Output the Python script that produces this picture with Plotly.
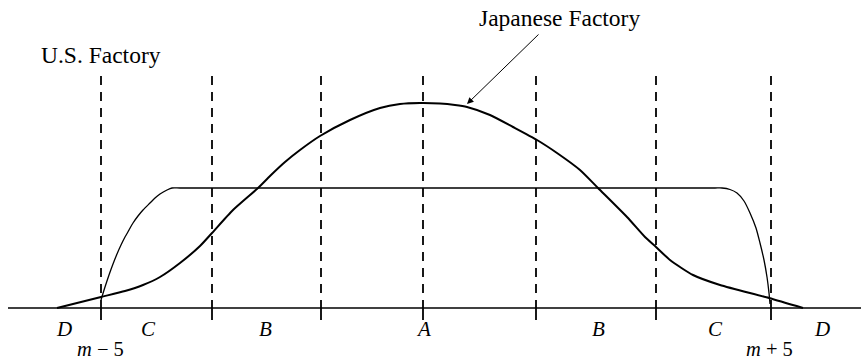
import plotly.graph_objects as go

# Measurement scale (horizontal) and relative frequency (vertical)
boundary_x = [101, 212, 321, 423, 536, 656, 771]
boundary_top = 232
zone_labels = ["D", "C", "B", "A", "B", "C", "D"]
zone_label_x = [64, 148, 265, 423, 598, 715, 822]
limit_labels = ["<i>m</i> − 5", "<i>m</i> + 5"]
limit_label_x = [100, 769]

us_x = [101, 105, 109, 113, 117, 121, 125, 129, 133, 138, 143, 150, 155, 160, 167, 172, 180,
        715, 722, 730, 737, 744, 750, 756, 760, 764, 767, 769, 770]
us_y = [8, 21, 33, 44, 54, 63, 71, 78, 85, 92, 98, 105, 110, 114, 118, 120, 120,
        120, 120, 118.5, 115, 107, 95, 80, 65, 48, 31, 15, 4]

jp_x = [57, 101, 125, 143, 160, 180, 200, 212, 233, 258, 270, 285, 300, 320, 350, 380, 400, 420, 440, 455,
        467, 490, 513, 537, 557, 580, 598, 627, 645, 656, 670, 693, 720, 769, 803]
jp_y = [0, 11, 17, 23, 31, 45, 62, 75, 98, 120, 132, 146, 158, 172, 188, 200, 204, 205, 204.5, 203,
        201, 193, 181, 168, 155, 138, 120, 91, 71, 61, 48, 33, 23, 10, 0]

axis_x = [8, 861]
axis_y = [0, 0]

fig = go.Figure()

# dashed boundaries
for bx in boundary_x:
    fig.add_trace(go.Scatter(x=[bx, bx], y=[boundary_top, 0], mode="lines",
                             line=dict(color="black", width=1.8, dash="9px,7px"),
                             hoverinfo="skip", showlegend=False))
    fig.add_trace(go.Scatter(x=[bx, bx], y=[0, -12], mode="lines",
                             line=dict(color="black", width=1.8),
                             hoverinfo="skip", showlegend=False))

fig.add_trace(go.Scatter(x=axis_x, y=axis_y, mode="lines",
                         line=dict(color="black", width=1.3), showlegend=False))

fig.add_trace(go.Scatter(x=us_x, y=us_y, mode="lines", name="U.S. Factory",
                         line=dict(color="black", width=1.3, shape="spline", smoothing=0.6),
                         showlegend=False))
fig.add_trace(go.Scatter(x=jp_x, y=jp_y, mode="lines", name="Japanese Factory",
                         line=dict(color="black", width=2, shape="spline", smoothing=0.6),
                         showlegend=False))

serif = "Liberation Serif, Times New Roman, serif"
for lx, lt in zip(zone_label_x, zone_labels):
    fig.add_annotation(x=lx, y=-21, text=f"<i>{lt}</i>", showarrow=False,
                       font=dict(family=serif, size=21, color="black"),
                       xanchor="center", yanchor="middle")
for lx, lt in zip(limit_label_x, limit_labels):
    fig.add_annotation(x=lx, y=-41, text=lt, showarrow=False,
                       font=dict(family=serif, size=20.5, color="black"),
                       xanchor="center", yanchor="middle")

fig.add_annotation(x=39, y=253, text="U.S. Factory", showarrow=False,
                   font=dict(family=serif, size=23.5, color="black"),
                   xanchor="left", yanchor="middle")
fig.add_annotation(x=477, y=290, text="Japanese Factory", showarrow=False,
                   font=dict(family=serif, size=23.5, color="black"),
                   xanchor="left", yanchor="middle")
fig.add_annotation(x=467, y=204, ax=540, ay=275, axref="x", ayref="y",
                   xref="x", yref="y", text="", showarrow=True,
                   arrowhead=2, arrowsize=1.3, arrowwidth=1, arrowcolor="black")

fig.update_layout(
    width=861, height=362,
    margin=dict(l=0, r=0, t=0, b=0),
    paper_bgcolor="white", plot_bgcolor="white",
    xaxis=dict(range=[0, 861], visible=False, fixedrange=True),
    yaxis=dict(range=[-54, 308], visible=False, fixedrange=True),
    showlegend=False,
)

fig.write_html("out.html", config={"displayModeBar": False},
               post_script="document.body.style.margin='0';document.body.style.overflow='hidden';")
